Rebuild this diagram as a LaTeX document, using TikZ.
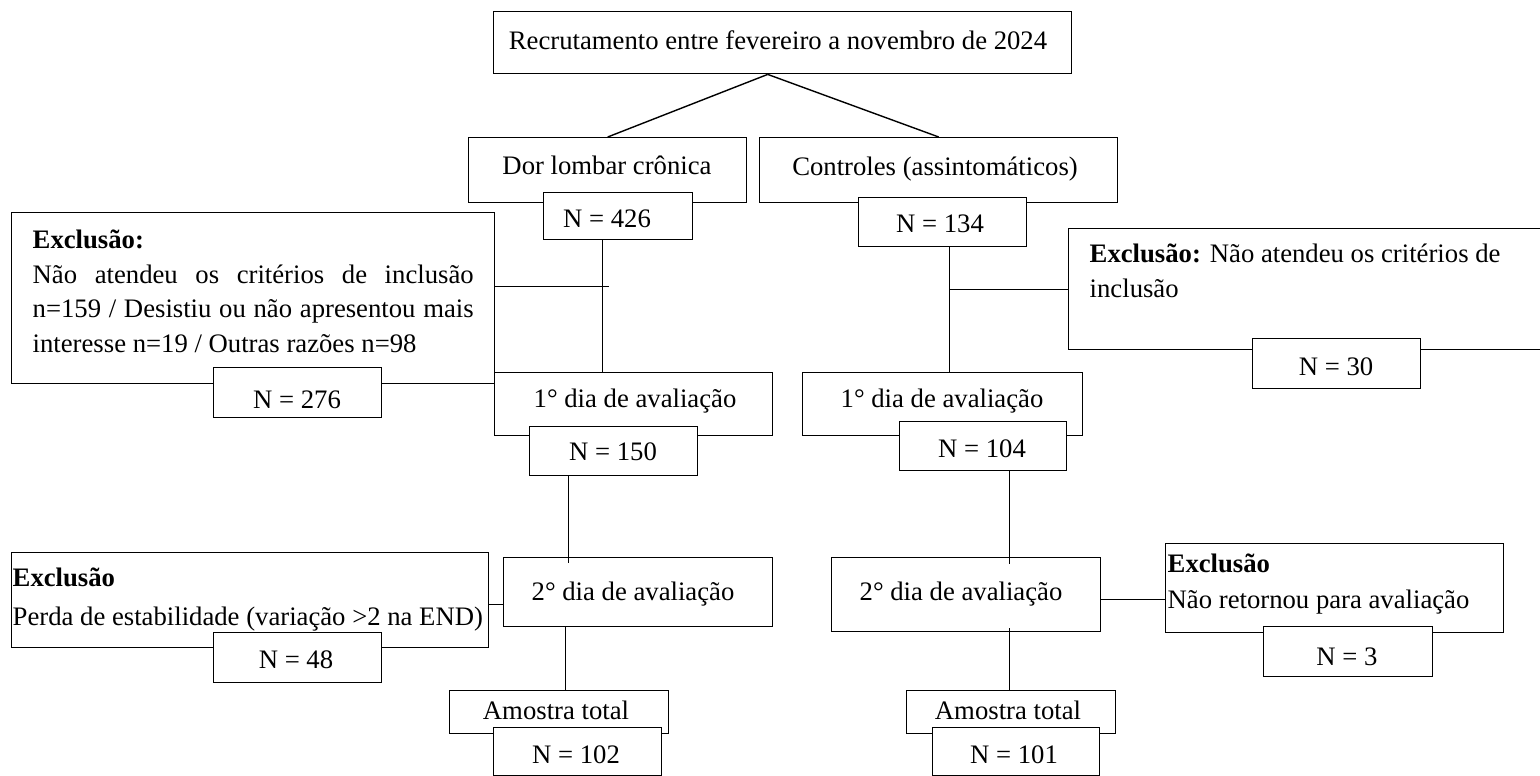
\documentclass[tikz,border=0pt]{standalone}
\usepackage{fontspec}
\setmainfont{Liberation Serif}
\usetikzlibrary{calc}
\begin{document}
\begin{tikzpicture}[x=1pt,y=-1pt,line width=1.4pt,
  box/.style={draw,fill=white,inner sep=0pt,anchor=north west},
  lbl/.style={inner sep=0pt,font=\fontsize{26.7}{32}\selectfont},
  lc/.style={lbl,anchor=base},
  ll/.style={lbl,anchor=base west}]
\useasboundingbox (0,0) rectangle (1540,776);
\clip (0,0) rectangle (1540,776);

% stage boxes
\node[box,minimum width=578pt,minimum height=62pt] (top) at (493,11) {};
\node[box,minimum width=278pt,minimum height=65pt] (dor) at (468,137) {};
\node[box,minimum width=358pt,minimum height=65pt] (ctrl) at (759,137) {};
\node[box,minimum width=483pt,minimum height=171pt] (exL1) at (11,212) {};
\node[box,minimum width=480pt,minimum height=121pt] (exR1) at (1068,228) {};
\node[box,minimum width=278pt,minimum height=63pt] (dia1L) at (494,372) {};
\node[box,minimum width=280pt,minimum height=63pt] (dia1R) at (802,372) {};
\node[box,minimum width=477pt,minimum height=95pt] (exL2) at (11,552) {};
\node[box,minimum width=269pt,minimum height=69pt] (dia2L) at (503,557) {};
\node[box,minimum width=269pt,minimum height=74pt] (dia2R) at (831,557) {};
\node[box,minimum width=338pt,minimum height=89pt] (exR2) at (1165,543) {};
\node[box,minimum width=219pt,minimum height=43pt] (amL) at (449,690) {};
\node[box,minimum width=209pt,minimum height=43pt] (amR) at (906,690) {};

% count boxes, overlapping the stage boxes
\node[box,minimum width=149pt,minimum height=47pt] (n426) at (543,192) {};
\node[box,minimum width=168pt,minimum height=49pt] (n134) at (858,197) {};
\node[box,minimum width=168pt,minimum height=50pt] (n276) at (213,367) {};
\node[box,minimum width=168pt,minimum height=49pt] (n150) at (529,426) {};
\node[box,minimum width=167pt,minimum height=49pt] (n104) at (899,421) {};
\node[box,minimum width=168pt,minimum height=50pt] (n30) at (1252,338) {};
\node[box,minimum width=168pt,minimum height=50pt] (n48) at (213,632) {};
\node[box,minimum width=169pt,minimum height=50pt] (n3) at (1263,626) {};
\node[box,minimum width=168pt,minimum height=48pt] (n102) at (493,727) {};
\node[box,minimum width=167pt,minimum height=48pt] (n101) at (932,727) {};

% connectors
\draw ($(top.south)+(-15,0)$) -- (dor.north);
\draw ($(top.south)+(-15,0)$) -- (ctrl.north);
\draw ($(n426.south)+(-15.5,0)$) -- ($(n426.south |- dia1L.north)+(-15.5,0)$);
\draw ($(exL1.east)+(0,-11.5)$) -- ($(n426.south |- exL1.east)+(-9.5,-11.5)$);
\draw ($(n150.south)+(-45,0)$) -- ($(n150.south |- dia2L.north)+(-45,6)$);
\draw ($(dia2L.west)+(0,12.5)$) -- ($(exL2.east |- dia2L.west)+(0,12.5)$);
\draw ($(amL.north)+(6.5,0)$) -- ($(amL.north |- dia2L.south)+(6.5,0)$);
\draw ($(n134.south)+(7,0)$) -- ($(n134.south |- dia1R.north)+(7,0)$);
\draw (exR1.west) -- ($(n134.south |- exR1.west)+(7,0)$);
\draw ($(n104.south)+(26.5,0)$) -- ($(n104.south |- dia2R.north)+(26.5,7)$);
\draw ($(dia2R.east)+(0,5)$) -- ($(exR2.west |- dia2R.east)+(0,5)$);
\draw ($(amR.north)+(-1.5,0)$) -- ($(amR.north |- dia2R.south)+(-1.5,-4)$);

% texts
\node[lc] (tTop) at (778,50) {Recrutamento entre fevereiro a novembro de 2024};
\node[lc] (tDor) at (607,174) {Dor lombar crônica};
\node[lc] (tCtrl) at (935,175) {Controles (assintomáticos)};
\node[lc] (t426) at (607,227) {N = 426};
\node[lc] (t134) at (940,232) {N = 134};
\node[ll] (tEx1a) at (32,248) {\textbf{Exclusão:}};
\node[ll] (tEx1b) at (32,283) {\makebox[441pt][s]{Não atendeu os critérios de inclusão}};
\node[ll] (tEx1c) at (32,317) {\makebox[441pt][s]{n=159 / Desistiu ou não apresentou mais}};
\node[ll] (tEx1d) at (32,352) {interesse n=19 / Outras razões n=98};
\node[lc] (t276) at (297,408) {N = 276};
\node[lc] (tD1L) at (635,407) {1° dia de avaliação};
\node[lc] (t150) at (613,460) {N = 150};
\node[lc] (tD1R) at (942,407) {1° dia de avaliação};
\node[lc] (t104) at (982,457) {N = 104};
\node[ll] (tEx2a) at (1089,262) {\textbf{Exclusão:} Não atendeu os critérios de};
\node[ll] (tEx2b) at (1089,297) {inclusão};
\node[lc] (t30) at (1336,375) {N = 30};
\node[lc] (tD2L) at (633,600) {2° dia de avaliação};
\node[ll] (tEx3a) at (12,586) {\textbf{Exclusão}};
\node[ll] (tEx3b) at (12,625) {Perda de estabilidade (variação >2 na END)};
\node[lc] (t48) at (296,668) {N = 48};
\node[lc] (tAmL) at (556,719) {Amostra total};
\node[lc] (t102) at (576,763) {N = 102};
\node[lc] (tD2R) at (961,600) {2° dia de avaliação};
\node[ll] (tEx4a) at (1167,572) {\textbf{Exclusão}};
\node[ll] (tEx4b) at (1167,608) {Não retornou para avaliação};
\node[lc] (t3) at (1347,665) {N = 3};
\node[lc] (tAmR) at (1008,719) {Amostra total};
\node[lc] (t101) at (1014,763) {N = 101};
\end{tikzpicture}
\end{document}
